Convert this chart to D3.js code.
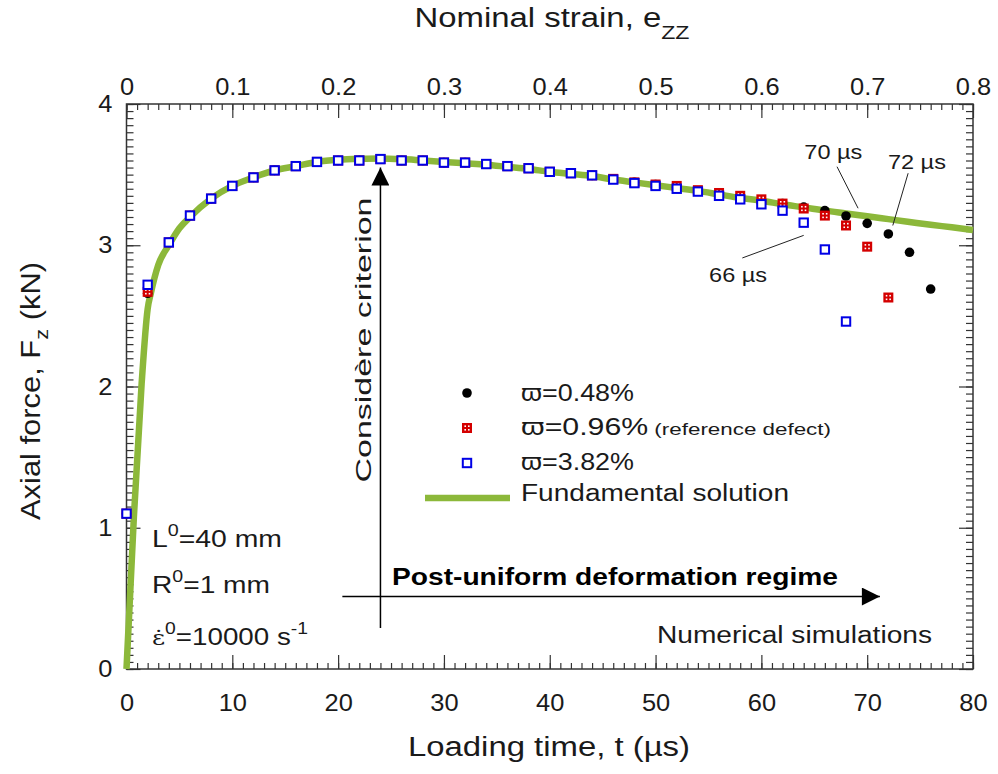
<!DOCTYPE html>
<html>
<head>
<meta charset="utf-8">
<script src="https://cdn.jsdelivr.net/npm/d3@7"></script>
<style>
  body { margin: 0; background: #fff; }
  svg { display: block; font-family: "Liberation Sans", Arial, sans-serif; }
</style>
</head>
<body>
<svg id="chart" width="998" height="774"></svg>
<script>
// ---------- DATA ----------
const timesBlue = [0,2,4,6,8,10,12,14,16,18,20,22,24,26,28,30,32,34,36,38,40,42,44,46,48,50,52,54,56,58,60,62,64,66,68];
const forceBlue = [1.10,2.72,3.02,3.21,3.33,3.42,3.48,3.53,3.56,3.59,3.60,3.60,3.61,3.60,3.60,3.585,3.585,3.575,3.56,3.545,3.52,3.51,3.495,3.465,3.44,3.42,3.40,3.38,3.35,3.325,3.29,3.245,3.16,2.97,2.46];

const timesRed = [0,2,4,6,8,10,12,14,16,18,20,22,24,26,28,30,32,34,36,38,40,42,44,46,48,50,52,54,56,58,60,62,64,66,68,70,72];
const forceRed = [1.10,2.67,3.02,3.21,3.33,3.42,3.48,3.53,3.56,3.59,3.60,3.60,3.61,3.60,3.60,3.585,3.585,3.575,3.56,3.545,3.52,3.51,3.495,3.47,3.445,3.43,3.42,3.39,3.37,3.35,3.325,3.295,3.26,3.21,3.14,2.99,2.63];

const timesBlack = [0,2,4,6,8,10,12,14,16,18,20,22,24,26,28,30,32,34,36,38,40,42,44,46,48,50,52,54,56,58,60,62,64,66,68,70,72,74,76];
const forceBlack = [1.10,2.66,3.02,3.21,3.33,3.42,3.48,3.53,3.56,3.59,3.60,3.60,3.61,3.60,3.60,3.585,3.585,3.575,3.56,3.545,3.52,3.51,3.495,3.47,3.445,3.43,3.41,3.385,3.365,3.345,3.32,3.295,3.27,3.245,3.207,3.155,3.08,2.95,2.69];

const fundT = [0,0.7,1.43,2.0,2.3,3,4,5,6,8,10,12,14,16,18,20,22,24,26,28,30,32,34,36,38,40,42,44,46,48,50,52,54,56,58,60,62,64,66,68,70,72,74,76,78,80];
const fundF = [0,1.08,2.02,2.55,2.66,2.86,3.0,3.12,3.2,3.33,3.42,3.48,3.53,3.56,3.59,3.605,3.612,3.615,3.61,3.60,3.59,3.58,3.57,3.555,3.54,3.52,3.505,3.49,3.465,3.445,3.425,3.405,3.385,3.36,3.335,3.315,3.29,3.268,3.245,3.225,3.205,3.185,3.165,3.145,3.127,3.108];

const xTicksBottom = [0,10,20,30,40,50,60,70,80];
const xTicksTop = [0,0.1,0.2,0.3,0.4,0.5,0.6,0.7,0.8];
const yTicks = [0,1,2,3,4];

const legendLabels = ["\u03D6=0.48%", "\u03D6=0.96%", "\u03D6=3.82%", "Fundamental solution"];

// annotations in data units
const annotations = [
  {label: "70 \u00B5s", tx: 66.8, tf: 3.66, x1: 67.15, f1: 3.556, x2: 69.14, f2: 3.262},
  {label: "72 \u00B5s", tx: 74.7, tf: 3.59, x1: 73.87, f1: 3.51, x2: 72.42, f2: 3.14},
  {label: "66 \u00B5s", tx: 57.8, tf: 2.79, x1: 58.2, f1: 2.91, x2: 64.0, f2: 3.07}
];

// ---------- SETUP ----------
const svg = d3.select("#chart");
const L = 126.5, R = 973, T = 104, B = 669;
const x = d3.scaleLinear().domain([0, 80]).range([L, R]);
const xTop = d3.scaleLinear().domain([0, 0.8]).range([L, R]);
const y = d3.scaleLinear().domain([0, 4]).range([B, T]);

const textColor = "#1a1a1a";
const axisColor = "#333";
const green = "#8cb83a";
const red = "#d40000";
const blue = "#0000e6";

function fitWidth(sel, w) {
  sel.attr("textLength", w).attr("lengthAdjust", "spacingAndGlyphs");
  return sel;
}
function stretch(sel, k) {
  sel.each(function() {
    const n = this.getComputedTextLength();
    d3.select(this).attr("textLength", n * k).attr("lengthAdjust", "spacingAndGlyphs");
  });
}

const defs = svg.append("defs");
defs.append("marker").attr("id","ah").attr("viewBox","0 0 10 10")
  .attr("refX",10).attr("refY",5).attr("markerWidth",27).attr("markerHeight",18)
  .attr("markerUnits","userSpaceOnUse").attr("orient","auto")
  .append("path").attr("d","M0,0 L10,5 L0,10 Z").attr("fill","#000");

// ---------- AXES ----------
function styleAxis(g) {
  g.select(".domain").remove();
  g.selectAll(".tick line").attr("stroke", axisColor).attr("stroke-width", 1.2);
  g.selectAll(".tick text").attr("fill", textColor).attr("font-size", 24)
    .attr("font-family", "'Liberation Sans', Arial, sans-serif");
}

// minor ticks
svg.append("g").attr("transform", `translate(0,${B})`)
  .call(d3.axisBottom(x).tickValues(d3.range(0, 81, 1)).tickSize(-6).tickFormat(""))
  .call(styleAxis);
svg.append("g").attr("transform", `translate(0,${T})`)
  .call(d3.axisTop(x).tickValues(d3.range(0, 81, 1)).tickSize(-6).tickFormat(""))
  .call(styleAxis);
svg.append("g").attr("transform", `translate(${L},0)`)
  .call(d3.axisLeft(y).tickValues(d3.range(0, 4.001, 0.05)).tickSize(-7).tickFormat(""))
  .call(styleAxis);
svg.append("g").attr("transform", `translate(${R},0)`)
  .call(d3.axisRight(y).tickValues(d3.range(0, 4.001, 0.05)).tickSize(-7).tickFormat(""))
  .call(styleAxis);

// major ticks + labels
const gB = svg.append("g").attr("transform", `translate(0,${B})`)
  .call(d3.axisBottom(x).tickValues(xTicksBottom).tickSize(-14).tickPadding(25).tickFormat(d3.format("d")))
  .call(styleAxis);
const gT = svg.append("g").attr("transform", `translate(0,${T})`)
  .call(d3.axisTop(xTop).tickValues(xTicksTop).tickSize(-14).tickPadding(9).tickFormat(d => d === 0 ? "0" : d3.format(".1f")(d)))
  .call(styleAxis);
const gL = svg.append("g").attr("transform", `translate(${L},0)`)
  .call(d3.axisLeft(y).tickValues(yTicks).tickSize(-14).tickPadding(14).tickFormat(d3.format("d")))
  .call(styleAxis);
svg.append("g").attr("transform", `translate(${R},0)`)
  .call(d3.axisRight(y).tickValues(yTicks).tickSize(-14).tickFormat(""))
  .call(styleAxis);
[gB, gT, gL].forEach(g => stretch(g.selectAll(".tick text"), 1.06));

// frame
svg.append("rect").attr("x", L).attr("y", T).attr("width", R - L).attr("height", B - T)
  .attr("fill", "none").attr("stroke", axisColor).attr("stroke-width", 1.5);

// ---------- AXIS TITLES ----------
fitWidth(svg.append("text").attr("x", 549).attr("y", 756).attr("text-anchor", "middle")
  .attr("font-size", 27).attr("fill", textColor)
  .text("Loading time, t (\u00B5s)"), 282);

const yt = svg.append("text").attr("transform", "translate(40,391) rotate(-90)")
  .attr("text-anchor", "middle").attr("font-size", 27).attr("fill", textColor);
yt.append("tspan").text("Axial force, F");
yt.append("tspan").attr("font-size", 19).attr("dy", 8).text("z");
yt.append("tspan").attr("dy", -8).text(" (kN)");
fitWidth(yt, 258);

const tt = svg.append("text").attr("x", 552).attr("y", 27).attr("text-anchor", "middle")
  .attr("font-size", 27).attr("fill", textColor);
tt.append("tspan").text("Nominal strain, e");
tt.append("tspan").attr("font-size", 19).attr("dy", 12).text("ZZ");
fitWidth(tt, 275);

// ---------- FUNDAMENTAL LINE ----------
const fundData = fundT.map((t, i) => ({t, f: fundF[i]}));
svg.append("path").datum(fundData)
  .attr("fill", "none").attr("stroke", green).attr("stroke-width", 6.5)
  .attr("stroke-linejoin", "round")
  .attr("d", d3.line().x(d => x(d.t)).y(d => y(d.f)).curve(d3.curveMonotoneX));

// ---------- MARKERS ----------
function drawCircle(g, cx, cy) {
  g.append("circle").attr("cx", cx).attr("cy", cy).attr("r", 4.8).attr("fill", "#000");
}
function drawRed(g, cx, cy) {
  g.append("rect").attr("x", cx - 5).attr("y", cy - 5).attr("width", 10).attr("height", 10).attr("fill", red);
  [[-1.8,-1.8],[1.8,-1.8],[-1.8,1.8],[1.8,1.8]].forEach(([dx, dy]) =>
    g.append("rect").attr("x", cx + dx - 0.8).attr("y", cy + dy - 0.8).attr("width", 1.6).attr("height", 1.6).attr("fill", "#fff"));
}
function drawBlue(g, cx, cy) {
  g.append("rect").attr("x", cx - 4.2).attr("y", cy - 4.2).attr("width", 8.4).attr("height", 8.4)
    .attr("fill", "#fff").attr("stroke", blue).attr("stroke-width", 2);
}

const gBlack = svg.append("g");
timesBlack.forEach((t, i) => drawCircle(gBlack, x(t), y(forceBlack[i])));
const gRed = svg.append("g");
timesRed.forEach((t, i) => drawRed(gRed, x(t), y(forceRed[i])));
const gBlue = svg.append("g");
timesBlue.forEach((t, i) => drawBlue(gBlue, x(t), y(forceBlue[i])));

// ---------- ANNOTATIONS ----------
annotations.forEach(a => {
  svg.append("line").attr("x1", x(a.x1)).attr("y1", y(a.f1)).attr("x2", x(a.x2)).attr("y2", y(a.f2))
    .attr("stroke", "#222").attr("stroke-width", 1);
  fitWidth(svg.append("text").attr("x", x(a.tx)).attr("y", y(a.tf)).attr("dy", "0.35em")
    .attr("text-anchor", "middle").attr("font-size", 21).attr("fill", textColor).text(a.label), 58);
});

// Considère arrow (vertical at t=24)
svg.append("line").attr("x1", x(24)).attr("y1", y(0.29)).attr("x2", x(24)).attr("y2", y(3.55))
  .attr("stroke", "#000").attr("stroke-width", 1.5).attr("marker-end", "url(#ah)");
fitWidth(svg.append("text").attr("transform", `translate(${x(24) - 9},340) rotate(-90)`)
  .attr("text-anchor", "middle").attr("font-size", 22).attr("fill", textColor)
  .text("Consid\u00E8re criterion"), 285);

// Post-uniform arrow
svg.append("line").attr("x1", x(20.4)).attr("y1", y(0.513)).attr("x2", x(71.2)).attr("y2", y(0.513))
  .attr("stroke", "#000").attr("stroke-width", 1.5).attr("marker-end", "url(#ah)");
fitWidth(svg.append("text").attr("x", 615).attr("y", 585).attr("text-anchor", "middle")
  .attr("font-size", 23).attr("font-weight", "bold").attr("fill", "#000")
  .text("Post-uniform deformation regime"), 446);

fitWidth(svg.append("text").attr("x", 932).attr("y", 643).attr("text-anchor", "end")
  .attr("font-size", 23).attr("fill", textColor).text("Numerical simulations"), 275);

// parameters
const p1 = svg.append("text").attr("x", 152).attr("y", 547).attr("font-size", 23).attr("fill", textColor);
p1.append("tspan").text("L");
p1.append("tspan").attr("font-size", 16).attr("dy", -11).text("0");
p1.append("tspan").attr("dy", 11).text("=40 mm");
fitWidth(p1, 130);
const p2 = svg.append("text").attr("x", 152).attr("y", 593).attr("font-size", 23).attr("fill", textColor);
p2.append("tspan").text("R");
p2.append("tspan").attr("font-size", 16).attr("dy", -11).text("0");
p2.append("tspan").attr("dy", 11).text("=1 mm");
fitWidth(p2, 118);
const p3 = svg.append("text").attr("x", 152).attr("y", 645).attr("font-size", 23).attr("fill", textColor);
p3.append("tspan").attr("font-family", "'DejaVu Serif', serif").attr("font-size", 21).text("\u03B5\u0307");
p3.append("tspan").attr("font-size", 16).attr("dy", -11).text("0");
p3.append("tspan").attr("dy", 11).text("=10000 s");
p3.append("tspan").attr("font-size", 16).attr("dy", -11).text("-1");
fitWidth(p3, 156);

// ---------- LEGEND ----------
const lg = svg.append("g");
drawCircle(lg, 467, 393);
drawRed(lg, 467, 428);
drawBlue(lg, 467, 463);
lg.append("line").attr("x1", 425).attr("x2", 510).attr("y1", 498).attr("y2", 498)
  .attr("stroke", green).attr("stroke-width", 6.5);
const ly = [393, 427, 462, 493];
const lw = [113, 310, 113, 268];
legendLabels.forEach((lab, i) => {
  const t = lg.append("text").attr("x", 521).attr("y", ly[i]).attr("dy", "0.35em")
    .attr("font-size", 23).attr("fill", textColor).text(lab);
  if (i === 1) t.append("tspan").attr("font-size", 17).text(" (reference defect)");
  fitWidth(t, lw[i]);
});
</script>
</body>
</html>
